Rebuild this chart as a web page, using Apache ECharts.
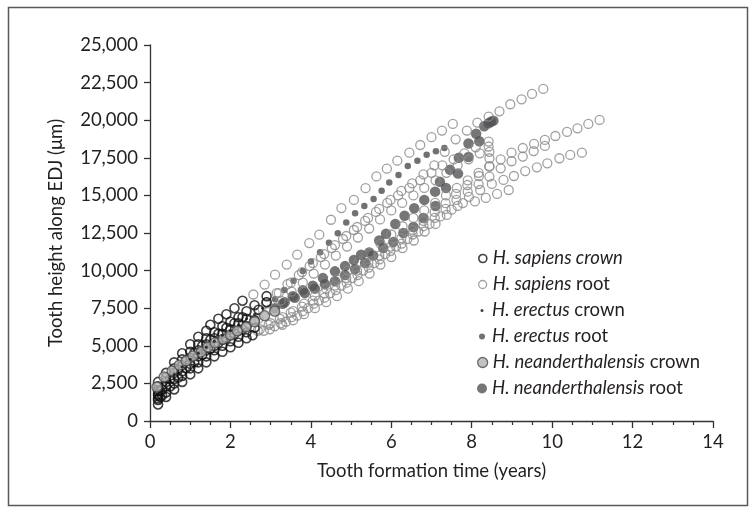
<!DOCTYPE html>
<html><head><meta charset="utf-8">
<script src="https://cdn.jsdelivr.net/npm/echarts@6/dist/echarts.min.js"></script>
<style>html,body{margin:0;padding:0;background:#fff}#c{width:752px;height:512px}</style>
</head><body><div id="c"></div>
<script>
// ---- data ----
const xTicks = [0, 2, 4, 6, 8, 10, 12, 14];
const yTicks = [0, 2500, 5000, 7500, 10000, 12500, 15000, 17500, 20000, 22500, 25000];
const xTitle = 'Tooth formation time (years)';
const yTitle = 'Tooth height along EDJ (μm)';
const seriesNames = ['H. sapiens crown', 'H. sapiens root', 'H. erectus crown', 'H. erectus root', 'H. neanderthalensis crown', 'H. neanderthalensis root'];

const sapiensCrown = [
  [0.2,2600],[0.4,3200],[0.6,3900],[0.8,4500],[1.0,5100],[1.2,5600],[1.4,6000],[1.5,6400],[1.7,6800],[1.9,7100],[2.1,7500],[2.3,8000],
  [0.2,2300],[0.4,2900],[0.6,3500],[0.8,4100],[1.0,4600],[1.2,5100],[1.4,5500],[1.6,5900],[1.8,6300],[2.0,6600],[2.2,6900],[2.4,7300],[2.6,7700],[2.9,8300],
  [0.2,2000],[0.4,2600],[0.6,3200],[0.8,3700],[1.0,4200],[1.2,4700],[1.4,5100],[1.6,5500],[1.8,5800],[2.0,6100],[2.2,6500],[2.4,6800],[2.7,7400],[2.9,7900],
  [0.2,1700],[0.4,2300],[0.6,2800],[0.8,3300],[1.0,3800],[1.2,4300],[1.4,4700],[1.6,5000],[1.8,5400],[2.0,5700],[2.2,6000],[2.4,6300],[2.6,6700],
  [0.2,1400],[0.4,1900],[0.6,2500],[0.8,3000],[1.0,3500],[1.2,3900],[1.4,4300],[1.6,4700],[1.8,5000],[2.0,5300],[2.2,5600],[2.4,5900],[2.6,6200],
  [0.2,1100],[0.4,1600],[0.6,2100],[0.8,2600],[1.0,3100],[1.2,3500],[1.4,3900],[1.6,4300],[1.8,4600],[2.0,4900],[2.2,5200],[2.4,5500],[2.55,5700],
  [0.3,2100],[0.5,2800],[0.7,3400],[0.9,4000],[1.1,4500],[1.3,5000],[1.5,5400],[1.7,5800],[1.9,6200],[2.1,6500],[2.3,6900],
  [0.3,1700],[0.5,2300],[0.7,2900],[0.9,3500],[1.1,3900],[1.3,4400],[1.5,4800],[1.7,5200],[1.9,5500],[2.1,5800],[2.3,6100],
  [0.2,1500],[0.2,1800],[0.25,1600],[0.25,2000]
];
const sapiensRoot = [
  [2.57,8410],[2.85,9070],[3.11,9730],[3.4,10400],[3.66,11060],[3.96,11830],[4.21,12390],[4.5,13380],[4.76,14160],[5.07,14700],[5.36,15480],[5.63,16260],[5.89,16780],[6.15,17310],[6.45,17840],[6.72,18350],[7.0,18870],[7.26,19310],[7.53,19750],
  [2.9,7900],[3.2,8500],[3.5,9200],[3.78,9900],[4.05,10500],[4.33,11100],[4.6,11700],[4.88,12300],[5.15,12900],[5.42,13500],[5.7,14100],[5.98,14700],[6.25,15300],[6.52,15800],[6.8,16400],[7.07,17000],[7.33,17900],[7.6,18730],[7.88,19310],[8.14,19840],[8.42,20240],[8.69,20590],[8.96,21060],[9.24,21390],[9.5,21745],[9.78,22078],
  [2.6,7200],[2.88,7800],[3.15,8500],[3.42,9100],[3.7,9700],[3.97,10300],[4.25,10900],[4.52,11500],[4.8,12100],[5.07,12700],[5.35,13300],[5.62,13900],[5.9,14500],[6.17,15000],[6.45,15500],[6.72,16000],[7.0,16500],[7.27,17000],[7.55,17400],[7.82,17800],[8.1,18200],[8.42,18580],
  [2.7,6800],[2.97,7400],[3.25,8000],[3.52,8600],[3.8,9200],[4.07,9800],[4.35,10400],[4.62,11000],[4.9,11600],[5.17,12200],[5.45,12800],[5.72,13400],[6.0,14000],[6.27,14500],[6.55,15000],[6.82,15500],[7.1,16000],[7.37,16500],[7.65,17000],[7.92,17400],[8.2,17800],[8.42,18250],
  [11.18,20020],[10.9,19750],[10.63,19460],[10.37,19220],[10.08,18950],[9.82,18690],[9.55,18420],[9.27,18150],[8.99,17840],[8.72,17400],[8.44,16910],[8.18,16290],[7.89,15690],[7.61,15100],[7.35,14480],[7.08,13900],[6.8,13300],[6.53,12700],[6.25,12150],[5.98,11600],[5.7,11000],[5.43,10500],[5.15,10000],[4.88,9500],[4.6,9000],[4.33,8500],[4.05,8000],[3.78,7600],[3.5,7200],[3.23,6800],[2.95,6400],[2.68,6000],
  [9.82,18290],[9.54,17950],[9.27,17580],[8.99,17270],[8.72,16800],[8.44,16250],[8.17,15750],[7.9,15250],[7.62,14700],[7.35,14100],[7.08,13500],[6.8,12950],[6.53,12400],[6.26,11800],[5.98,11300],[5.71,10750],[5.44,10200],[5.16,9700],[4.89,9200],[4.62,8700],[4.34,8200],[4.07,7800],[3.8,7300],[3.52,6900],[3.25,6500],[2.98,6100],
  [10.74,17840],[10.45,17690],[10.18,17470],[9.88,17130],[9.62,16870],[9.33,16620],[9.05,16290],[8.79,16030],[8.5,15760],[8.21,15360],[7.93,14900],[7.65,14300],[7.38,13700],[7.1,13100],[6.83,12600],[6.56,12000],[6.28,11500],[6.0,10900],[5.73,10400],[5.46,9800],[5.19,9300],[4.92,8800],[4.65,8300],[4.38,7900],[4.1,7500],[3.83,7100],[3.56,6700],[3.29,6400],
  [8.92,15360],[8.63,15100],[8.35,14830],[8.08,14600],[7.78,14490],[7.5,14050],[7.22,13600],[6.95,13100],[6.67,12600],[6.4,12100],[6.12,11600],[5.85,11100],[5.58,10500],[5.3,10000],[5.03,9500],[4.76,9000],[4.48,8500],[4.2,8000],[3.93,7500],[3.66,7000],[3.38,6600],[3.1,6300],[2.83,6000],
  [8.44,16950],[8.17,16500],[7.9,16000],[7.63,15500],[7.36,15000],[7.09,14500],[6.82,14000],[6.55,13500],[6.28,12950],[6.0,12400],[5.73,11800],[5.46,11200],[5.19,10600],[4.92,10000],[4.65,9400],[4.38,8800],[4.1,8300],[3.83,7800],[3.56,7300],[3.29,6900],[3.0,6500],[2.73,6100],
  [8.44,17470],[8.44,17900],[2.4,6300],[2.5,6700]
];
const erectusCrown = [
  [0.2,1800],[0.4,2500],[0.6,3100],[0.8,3600],[1.0,4100],[1.2,4500],[1.4,4900],[1.6,5300],[1.8,5700],[2.0,6000],[2.2,6400],[2.4,6800],[2.6,7100],[2.8,7500]
];
const erectusRoot = [
  [3.11,8090],[3.34,8710],[3.57,9330],[3.8,9975],[4.0,10600],[4.23,11220],[4.45,11860],[4.67,12480],[4.88,13190],[5.1,13810],[5.33,14300],[5.56,14760],[5.76,15310],[5.95,15850],[6.18,16360],[6.41,16960],[6.65,17310],[6.88,17710],[7.11,17930],[7.32,18150]
];
const neanderCrown = [
  [0.17,2260],[0.35,2930],[0.55,3330],[0.73,3720],[0.9,4000],[1.07,4320],[1.27,4590],[1.44,4920],[1.62,5190],[1.82,5450],[2.0,5720],[2.17,5990],[2.39,6250],[2.6,6600],[2.85,7000],[3.1,7300]
];
const neanderRoot = [
  [3.1,7500],[3.35,7900],[3.6,8200],[3.85,8500],[4.1,8800],[4.35,9100],[4.6,9300],[4.85,9700],[5.1,10100],[5.35,10500],[5.55,11000],[5.8,11500],[6.05,11900],[6.3,12500],[6.55,12900],[6.8,13500],[7.1,14300],[7.36,15500],[7.66,16450],[7.92,17550],[8.19,18600],
  [3.3,7800],[3.55,8300],[3.8,8700],[4.05,9000],[4.3,9500],[4.6,9950],[4.85,10300],[5.07,10700],[5.25,11050],[5.45,11200],[5.7,12000],[5.87,12450],[6.1,13100],[6.33,13650],[6.57,14150],[6.82,14700],[7.09,15250],[7.21,15900],[7.46,16700],[7.68,17500],[7.92,18450],[8.11,19100],[8.31,19600],[8.42,19800],[8.48,19900],[8.54,19970]
];

// ---- chart ----
const FONT = 'Lato';
const FS = 18.5;
const TXT = '#231f20';
const AX = '#333333';
const DARK = '#58595b';

const chart = echarts.init(document.getElementById('c'), null, {renderer: 'canvas'});

const styles = {
  'H. sapiens crown': {size: 9, lsize: 8, item: {color: 'rgba(0,0,0,0)', borderColor: '#111111', borderWidth: 1.6}, data: sapiensCrown},
  'H. sapiens root': {size: 9, lsize: 8, item: {color: 'rgba(0,0,0,0)', borderColor: '#8a8a8a', borderWidth: 1.3}, data: sapiensRoot},
  'H. erectus crown': {size: 3, lsize: 3, item: {color: '#111111'}, data: erectusCrown},
  'H. erectus root': {size: 6.5, lsize: 6, item: {color: '#4d4d4f'}, data: erectusRoot},
  'H. neanderthalensis crown': {size: 10, lsize: 10, item: {color: '#b3b3b3', borderColor: '#4d4d4d', borderWidth: 1.3}, data: neanderCrown},
  'H. neanderthalensis root': {size: 10.5, lsize: 10, item: {color: '#545456'}, data: neanderRoot}
};
const drawOrder = ['H. neanderthalensis root', 'H. erectus root', 'H. sapiens root', 'H. sapiens crown', 'H. neanderthalensis crown', 'H. erectus crown'];

const series = drawOrder.map(n => ({
  name: n, type: 'scatter', symbol: 'circle', symbolSize: styles[n].size,
  itemStyle: styles[n].item, data: styles[n].data, animation: false,
  emphasis: {disabled: true}
}));

const italicMap = {
  'H. sapiens crown': ['H. sapiens crown', ''],
  'H. sapiens root': ['H. sapiens', ' root'],
  'H. erectus crown': ['H. erectus', ' crown'],
  'H. erectus root': ['H. erectus', ' root'],
  'H. neanderthalensis crown': ['H. neanderthalensis', ' crown'],
  'H. neanderthalensis root': ['H. neanderthalensis', ' root']
};
const legendCenters = [260, 286, 312, 338, 364, 390];
const legends = seriesNames.map((n, i) => {
  const w = styles[n].lsize;
  return {
    data: [n], orient: 'vertical', left: 482 - w / 2, top: legendCenters[i] - 11,
    itemWidth: w, itemHeight: w, padding: 0, selectedMode: false,
    itemStyle: Object.assign({}, styles[n].item),
    formatter: name => '{i|' + italicMap[name][0] + '}' + italicMap[name][1],
    textStyle: {
      fontFamily: FONT, fontSize: FS, color: TXT, padding: [0, 0, 0, 5 - w / 2],
      rich: {i: {fontFamily: FONT, fontSize: FS, color: TXT, fontStyle: 'italic'}}
    }
  };
});

chart.setOption({
  animation: false,
  grid: {left: 150, right: 39, top: 45, bottom: 91, containLabel: false},
  xAxis: {
    type: 'value', min: xTicks[0], max: xTicks[xTicks.length - 1], interval: 2,
    name: xTitle, nameLocation: 'middle', nameGap: 41,
    nameTextStyle: {fontFamily: FONT, fontSize: FS, color: TXT},
    axisLine: {show: true, lineStyle: {color: AX, width: 1.3}},
    axisTick: {show: true, length: 7, lineStyle: {color: AX, width: 1.3}},
    minorTick: {show: true, splitNumber: 4, length: 4, lineStyle: {color: AX, width: 1.2}},
    splitLine: {show: false},
    axisLabel: {fontFamily: FONT, fontSize: FS, color: TXT, margin: 12}
  },
  yAxis: {
    type: 'value', min: yTicks[0], max: yTicks[yTicks.length - 1], interval: 2500,
    name: yTitle, nameLocation: 'middle', nameGap: 84, nameRotate: 90,
    nameTextStyle: {fontFamily: FONT, fontSize: FS, color: TXT},
    axisLine: {show: true, lineStyle: {color: AX, width: 1.3}},
    axisTick: {show: true, length: 6, lineStyle: {color: AX, width: 1.3}},
    splitLine: {show: false},
    axisLabel: {fontFamily: FONT, fontSize: FS, color: TXT, margin: 12,
      formatter: v => v.toLocaleString('en-US')}
  },
  legend: legends,
  series: series,
  graphic: [{
    type: 'rect', silent: true, z: -1,
    shape: {x: 8.5, y: 7.5, width: 739, height: 498},
    style: {fill: 'none', stroke: '#58595b', lineWidth: 1.5}
  }]
});
</script>
</body></html>
